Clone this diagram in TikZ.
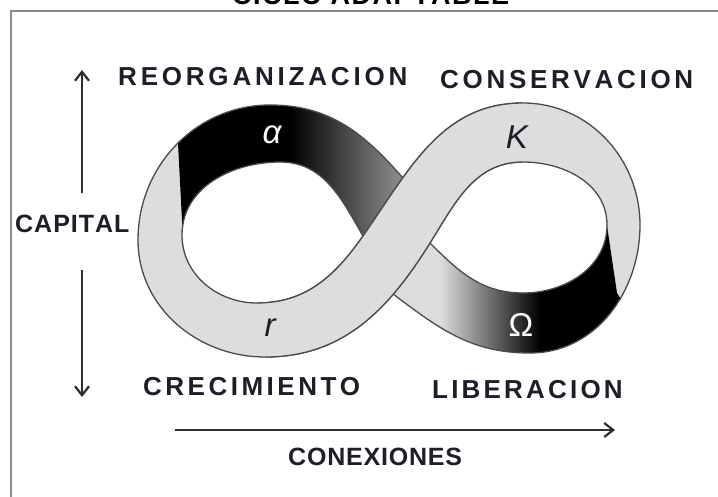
\documentclass[tikz,border=0pt]{standalone}
\usepackage{fontspec}
\setmainfont{Liberation Sans}
\usetikzlibrary{arrows.meta}
\definecolor{bandgray}{RGB}{221,221,221}
\definecolor{edgegray}{RGB}{75,75,75}
\definecolor{labelink}{RGB}{30,30,40}
\definecolor{framegray}{RGB}{140,140,140}
\newdimen\lspk
\def\lsp#1#2{\lspk=#1\relax\lspA#2\relax}
\def\lspA#1{\ifx\relax#1\else#1\kern\lspk\expandafter\lspA\fi}
\def\bandpath{(363,260) to[out=55,in=180] (523,393) to[out=0,in=90] (640,271) to[out=-90,in=0] (530,143) to[out=180,in=-37] (397,199) to[out=143,in=-60] (363,260) to[out=120,in=0] (280,334) to[out=180,in=90] (182,261) to[out=-90,in=180] (257,193) to[out=0,in=235] (363,260)
 (430,253) to[out=238,in=0] (265,139) to[out=180,in=-90] (138,256) to[out=90,in=180] (270,391) to[out=0,in=131] (402,319) to[out=-49,in=135] (430,253) to[out=-45,in=180] (523,203) to[out=0,in=-90] (607,271) to[out=90,in=0] (523,334) to[out=180,in=58] (430,253)}
\def\overpath{(257,193) to[out=0,in=235] (363,260) to[out=55,in=180] (523,393) -- (523,334) to[out=180,in=58] (430,253) to[out=238,in=0] (265,139) -- cycle}
\tikzset{
  edge/.style={draw=edgegray, line width=1.3pt, line join=round},
  lab/.style={font=\fontsize{26}{26}\selectfont\bfseries, text=labelink, inner sep=0pt},
  smalllab/.style={font=\fontsize{25}{25}\selectfont\bfseries, text=labelink, inner sep=0pt},
  greek/.style={font=\fontsize{33}{33}\selectfont, inner sep=0pt},
  arr/.style={draw=black!82, line width=2.4pt, -{Straight Barb[length=9pt,width=14pt,line width=2.2pt]}}
}
\begin{document}
\begin{tikzpicture}[x=1pt,y=1pt]
\useasboundingbox (0,0) rectangle (718,496);
\fill[white] (0,0) rectangle (718,496);
% title (cut by the top edge, as in the reference)
\node[font=\fontsize{27}{27}\selectfont\bfseries, text=black, inner sep=0pt, anchor=base west] (title) at (232,491) {\lsp{1.5pt}{CICLO}\kern7pt\lsp{1.5pt}{ADAPTABLE}};
% frame
\draw[framegray, line width=2.5pt] (11,-5) -- (11,485) -- (725,485);
% band
\fill[bandgray] \bandpath;
\begin{scope}
  \clip \bandpath;
  \clip (183,256) -- (178,353) -- (150,440) -- (432,440) -- (432,256) -- cycle;
  \fill[black] (130,60) rectangle (290,450);
  \shade[left color=black, right color=black!45] (290,60) rectangle (400,450);
  \fill[black!45] (400,60) rectangle (440,450);
\end{scope}
\begin{scope}
  \clip \bandpath;
  \clip (605,284) -- (617,203) -- (650,150) -- (650,60) -- (370,60) -- (370,256) -- cycle;
  \shade[left color=bandgray, middle color=black!72, right color=black] (440,60) rectangle (540,300);
  \fill[black] (540,60) rectangle (660,300);
\end{scope}
\draw[edge] \bandpath;
\fill[bandgray] \overpath;
\draw[edge] (257,193) to[out=0,in=235] (363,260) to[out=55,in=180] (523,393);
\draw[edge] (523,334) to[out=180,in=58] (430,253) to[out=238,in=0] (265,139);
% greek letters
\node[greek, text=white] (alpha) at (272,361) {\itshape α};
\node[greek, text=labelink] (kappa) at (517,359) {\itshape K};
\node[greek, text=labelink] (rr) at (270,168) {\itshape r};
\node[greek, text=white] (omega) at (521,171) {Ω};
% labels
\node[lab, anchor=base west] (reorg) at (118,410) {\lsp{3.8pt}{REORGANIZACION}};
\node[lab, anchor=base west] (cons) at (440,407) {\lsp{3.7pt}{CONSERVACION}};
\node[smalllab, anchor=base west] (capital) at (15,263) {\lsp{1pt}{CAPITAL}};
\node[lab, anchor=base west] (crec) at (143,101) {\lsp{3.5pt}{CRECIMIENTO}};
\node[lab, anchor=base west] (lib) at (432,98) {\lsp{3.2pt}{LIBERACION}};
\node[smalllab, anchor=base west] (conex) at (288,31) {\lsp{0.8pt}{CONEXIONES}};
% arrows
\coordinate (upS) at (82,303);
\coordinate (upE) at (82,426);
\coordinate (dnS) at (82,226);
\coordinate (dnE) at (82,99);
\coordinate (hS) at (175,66);
\coordinate (hE) at (615,66);
\draw[arr] (upS) -- (upE);
\draw[arr] (dnS) -- (dnE);
\draw[arr, line width=2.8pt] (hS) -- (hE);
\end{tikzpicture}
\end{document}
